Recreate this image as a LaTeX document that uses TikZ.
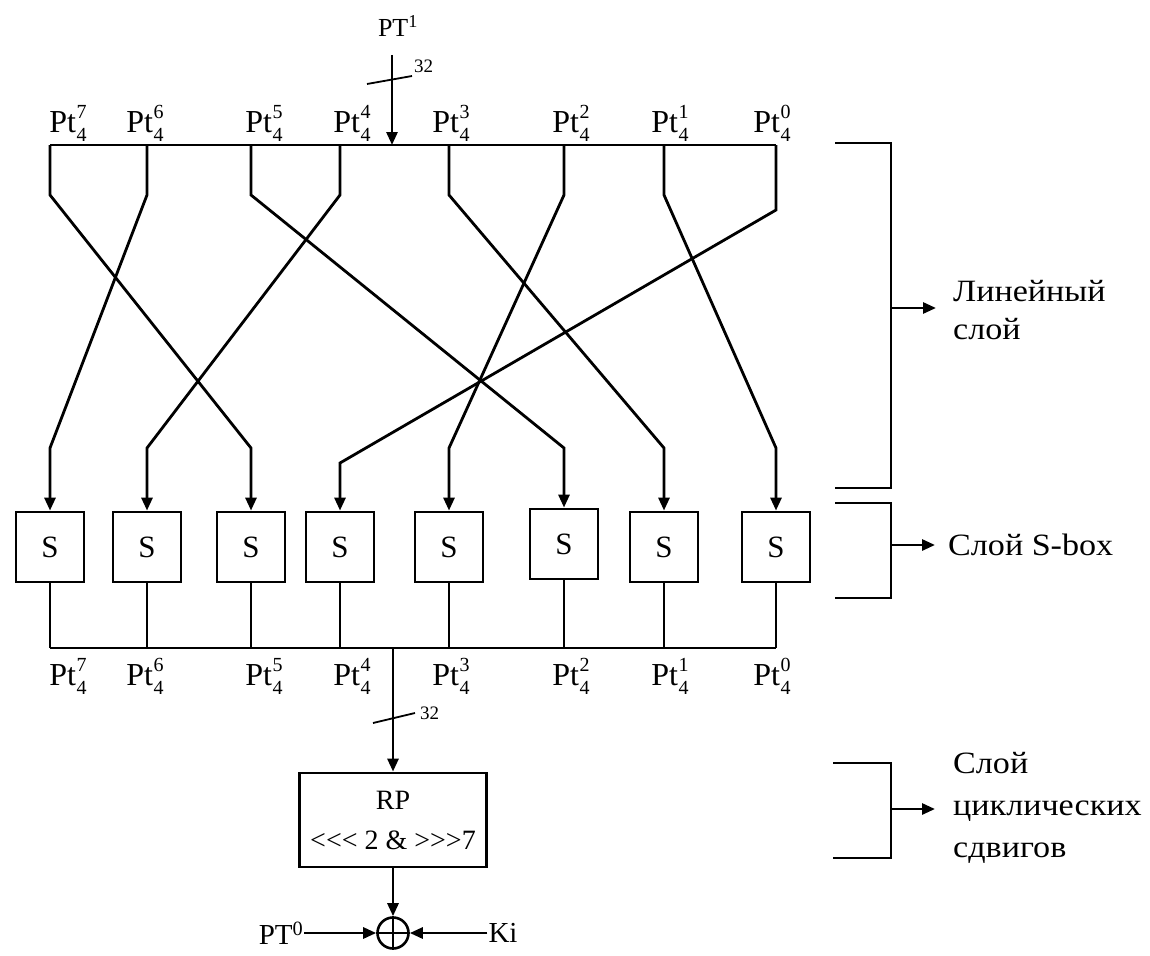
\documentclass[tikz,border=0pt]{standalone}
\usepackage{fontspec}
\setmainfont[Ligatures=TeXOff]{Liberation Serif}
\newfontfamily\sidefont[Ligatures=TeXOff,FakeStretch=1.1]{Liberation Serif}
\usetikzlibrary{arrows.meta}
\newcommand{\ptlab}[1]{Pt\kern0.02em\rlap{\raisebox{0.42em}{\fontsize{20}{20}\selectfont #1}}\raisebox{-0.3em}{\fontsize{20}{20}\selectfont 4}}
\begin{document}
\begin{tikzpicture}[x=1pt,y=-1pt,
  wire/.style={line width=2.8pt, line join=miter},
  arr/.style={wire, -{Triangle[length=13pt,width=11pt]}},
  sbox/.style={draw, line width=2.8pt, minimum width=68pt, minimum height=70pt, inner sep=0pt, font=\fontsize{31}{32}\selectfont},
  lab/.style={font=\fontsize{32}{34}\selectfont, inner sep=0pt, anchor=base},
  side/.style={font=\sidefont\fontsize{31}{38}\selectfont, align=left, anchor=west, inner sep=0pt},
  small/.style={font=\fontsize{19}{19}\selectfont, inner sep=0pt, anchor=west}]
\path[use as bounding box] (0,0) rectangle (1150,955);

% top bus points
\coordinate (t7) at (50,145);
\coordinate (t6) at (147,145);
\coordinate (t5) at (251,145);
\coordinate (t4) at (340,145);
\coordinate (t3) at (449,145);
\coordinate (t2) at (564,145);
\coordinate (t1) at (664,145);
\coordinate (t0) at (776,145);
\coordinate (tb) at (0,195);
\coordinate (tb0) at (0,210);
\coordinate (bb) at (0,448);
\coordinate (bb0) at (0,463);
\coordinate (bus) at (0,648);

\draw[wire] (t7) -- (t0);

% top labels
\node[lab] at (68,132) {\ptlab{7}};
\node[lab] at (145,132) {\ptlab{6}};
\node[lab] at (264,132) {\ptlab{5}};
\node[lab] at (352,132) {\ptlab{4}};
\node[lab] at (451,132) {\ptlab{3}};
\node[lab] at (571,132) {\ptlab{2}};
\node[lab] at (670,132) {\ptlab{1}};
\node[lab] at (772,132) {\ptlab{0}};

% PT1 input
\node[font=\fontsize{26}{28}\selectfont, inner sep=0pt, anchor=base] (pt1) at (398,37) {PT\textsuperscript{1}};
\coordinate (pin) at (392,55);
\coordinate (pbus) at (392,145);
\draw[arr] (pin) -- (pbus);
\draw[line width=1.8pt] (367,84) -- (412,76);
\node[small] (n32a) at (414,66) {32};

% S boxes
\node[sbox] (s1) at (50,547) {S};
\node[sbox] (s2) at (147,547) {S};
\node[sbox] (s3) at (251,547) {S};
\node[sbox] (s4) at (340,547) {S};
\node[sbox] (s5) at (449,547) {S};
\node[sbox] (s6) at (564,544) {S};
\node[sbox] (s7) at (664,547) {S};
\node[sbox] (s8) at (776,547) {S};

% linear layer wiring
\draw[arr] (t7) -- (t7 |- tb) -- (s3.north |- bb) -- (s3.north);
\draw[arr] (t6) -- (t6 |- tb) -- (s1.north |- bb) -- (s1.north);
\draw[arr] (t5) -- (t5 |- tb) -- (s6.north |- bb) -- (s6.north);
\draw[arr] (t4) -- (t4 |- tb) -- (s2.north |- bb) -- (s2.north);
\draw[arr] (t3) -- (t3 |- tb) -- (s7.north |- bb) -- (s7.north);
\draw[arr] (t2) -- (t2 |- tb) -- (s5.north |- bb) -- (s5.north);
\draw[arr] (t1) -- (t1 |- tb) -- (s8.north |- bb) -- (s8.north);
\draw[arr] (t0) -- (t0 |- tb0) -- (s4.north |- bb0) -- (s4.north);

% bottom bus
\foreach \s in {s1,s2,s3,s4,s5,s6,s7,s8}
  \draw[wire] (\s.south) -- (\s.south |- bus);
\draw[wire] (s1.south |- bus) -- (s8.south |- bus);

% bottom labels
\node[lab] at (68,685) {\ptlab{7}};
\node[lab] at (145,685) {\ptlab{6}};
\node[lab] at (264,685) {\ptlab{5}};
\node[lab] at (352,685) {\ptlab{4}};
\node[lab] at (451,685) {\ptlab{3}};
\node[lab] at (571,685) {\ptlab{2}};
\node[lab] at (670,685) {\ptlab{1}};
\node[lab] at (772,685) {\ptlab{0}};

% RP box
\node[draw, line width=2.8pt, minimum width=187pt, minimum height=94pt, inner sep=0pt,
      align=center, font=\fontsize{28}{40}\selectfont] (rp) at (393,820) {RP\\<<< 2 \& >>>7};
\coordinate (bo) at (393,648);
\draw[arr] (bo) -- (rp.north);
\draw[line width=1.8pt] (373,723) -- (415,713);
\node[small] (n32b) at (420,713) {32};

% XOR
\node[draw, circle, line width=2.6pt, minimum size=31pt, inner sep=0pt] (x) at (393,933) {};
\draw[line width=2.3pt] (x.north) -- (x.south) (x.west) -- (x.east);
\draw[arr] (rp.south) -- (x.north);
\node[font=\fontsize{29}{30}\selectfont, inner sep=1pt] (pt0) at (281,933) {PT\textsuperscript{0}};
\node[font=\fontsize{29}{30}\selectfont, inner sep=1pt] (ki) at (503,933) {Ki};
\draw[arr] (pt0.east) -- (x.west);
\draw[arr] (ki.west) -- (x.east);

% right brackets
\draw[wire] (835,143) -- (891,143) -- (891,488) -- (835,488);
\coordinate (br1) at (891,308);
\node[side] (lin) at (953,310) {Линейный\\слой};
\draw[arr, shorten >=17pt] (br1) -- (br1 -| lin.west);

\draw[wire] (835,503) -- (891,503) -- (891,598) -- (835,598);
\coordinate (br2) at (891,545);
\node[side] (sbl) at (948,545) {Слой S-box};
\draw[arr, shorten >=13pt] (br2) -- (br2 -| sbl.west);

\draw[wire] (833,763) -- (891,763) -- (891,858) -- (833,858);
\coordinate (br3) at (891,809);
\node[side, font=\sidefont\fontsize{31}{42}\selectfont] (cyc) at (953,808) {Слой\\циклических\\сдвигов};
\draw[arr, shorten >=18pt] (br3) -- (br3 -| cyc.west);
\end{tikzpicture}
\end{document}
